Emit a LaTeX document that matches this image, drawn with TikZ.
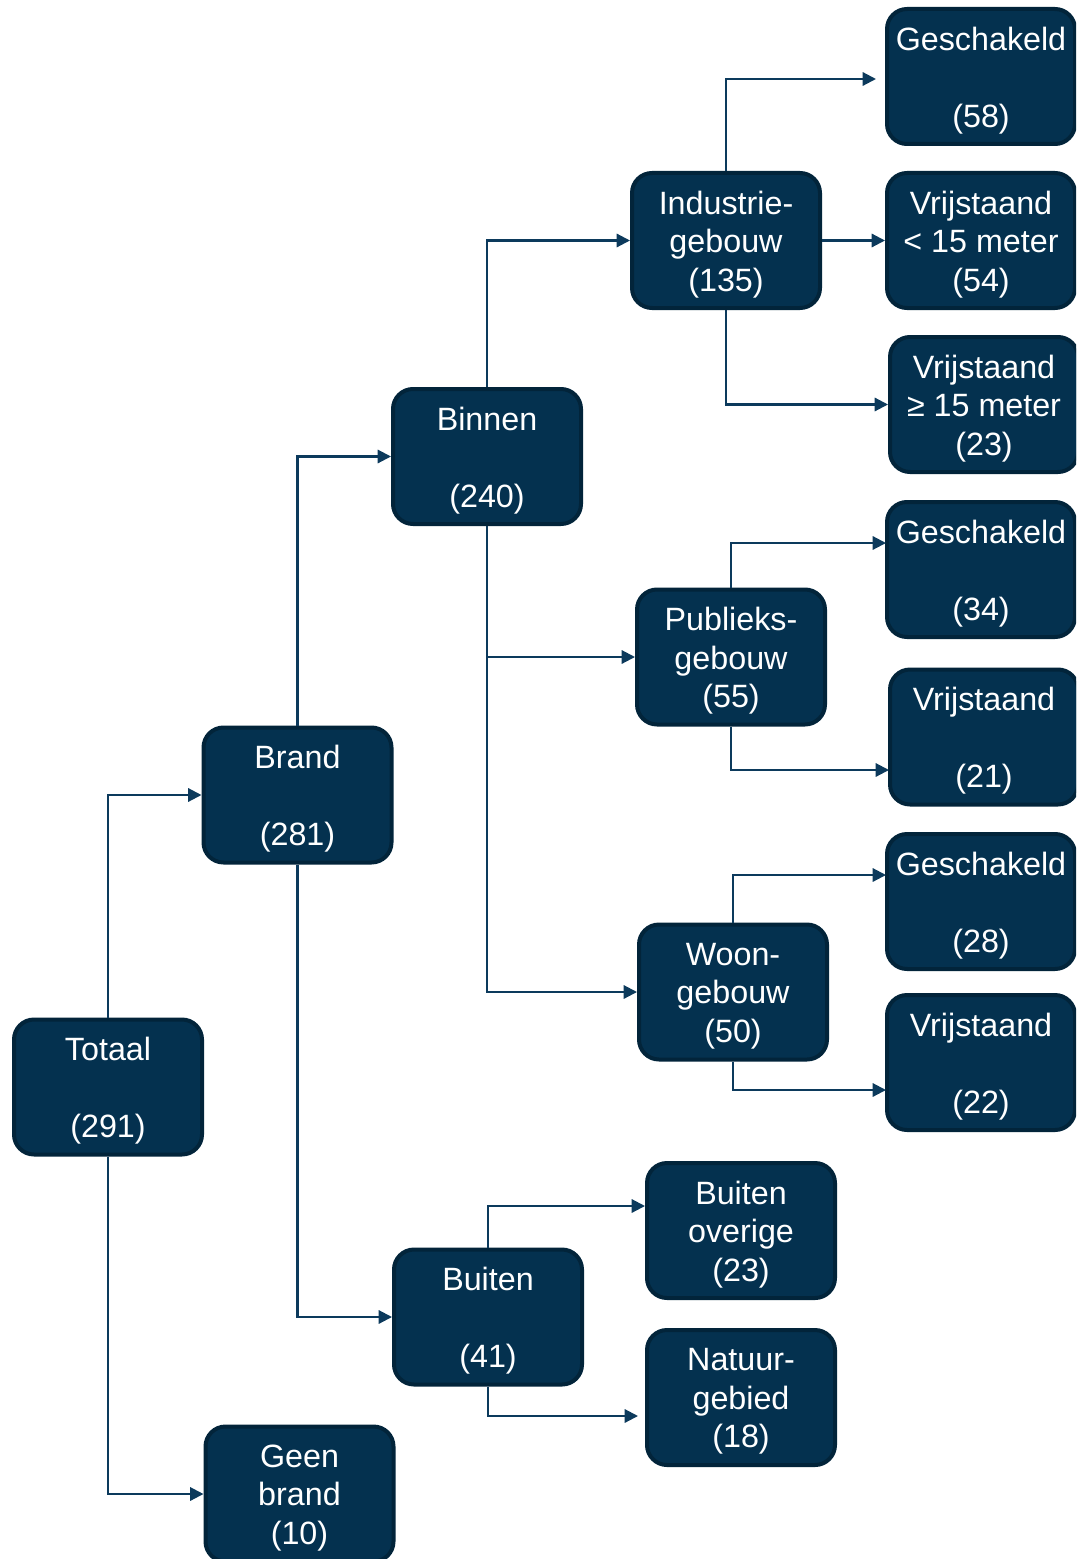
\documentclass[tikz,border=0pt]{standalone}
\usepackage{fontspec}
\setmainfont{Liberation Sans}
\usetikzlibrary{arrows.meta}
\definecolor{boxfill}{HTML}{04314F}
\definecolor{boxline}{HTML}{02243A}
\definecolor{conn}{HTML}{0C3A5C}
\tikzset{
  box/.style={draw=boxline, line width=3pt, fill=boxfill, rounded corners=15pt,
    minimum width=141pt, minimum height=101.25pt, inner sep=0pt,
    label={[txt]center:#1}},
  txt/.style={align=center, text=white, inner sep=0pt, yshift=-3pt,
    font=\fontsize{24.2}{28.9}\selectfont},
  arr/.style={draw=conn, line width=1.6pt, -{Triangle[length=10pt,width=10pt]}}
}
\begin{document}
\begin{tikzpicture}[x=0.75pt,y=-0.75pt]
\useasboundingbox (0,0) rectangle (1076,1559);
\clip (0,0) rectangle (1076,1559);
% nodes
\node[box={Totaal\\\mbox{}\\(291)}] (tot) at (108,1087) {};
\node[box={Brand\\\mbox{}\\(281)}] (brand) at (297.5,795) {};
\node[box={Geen\\brand\\(10)}] (geen) at (299.5,1494) {};
\node[box={Binnen\\\mbox{}\\(240)}] (binnen) at (487,456.5) {};
\node[box={Buiten\\\mbox{}\\(41)}] (buiten) at (488,1317) {};
\node[box={Industrie-\\gebouw\\(135)}] (ind) at (726,240.5) {};
\node[box={Publieks-\\gebouw\\(55)}] (pub) at (731,657) {};
\node[box={Woon-\\gebouw\\(50)}] (woon) at (733,992) {};
\node[box={Buiten\\overige\\(23)}] (bo) at (741,1230.5) {};
\node[box={Natuur-\\gebied\\(18)}] (nat) at (741,1397.5) {};
\node[box={Geschakeld\\\mbox{}\\(58)}] (g1) at (981,76.5) {};
\node[box={Vrijstaand\\< 15 meter\\(54)}] (v1) at (981,240.5) {};
\node[box={Vrijstaand\\≥ 15 meter\\(23)}] (v2) at (984,404.5) {};
\node[box={Geschakeld\\\mbox{}\\(34)}] (g2) at (981,569.5) {};
\node[box={Vrijstaand\\\mbox{}\\(21)}] (v3) at (984,737) {};
\node[box={Geschakeld\\\mbox{}\\(28)}] (g3) at (981,901.5) {};
\node[box={Vrijstaand\\\mbox{}\\(22)}] (v4) at (981,1062.5) {};
% connector end points
\coordinate (g1in) at (876,79);
\coordinate (g2in) at (886,543);
\coordinate (v3in) at (889,770);
\coordinate (g3in) at (886,875);
\coordinate (v4in) at (886,1090);
\coordinate (boin) at (645,1206);
\coordinate (natin) at (638,1416);
% connectors
\draw[arr] (tot.north) |- (brand.west);
\draw[arr] (tot.south) |- (geen.west);
\draw[arr] (brand.north) |- (binnen.west);
\draw[arr] (brand.south) |- (buiten.west);
\draw[arr] (binnen.north) |- (ind.west);
\draw[arr] (binnen.south) |- (woon.west);
\draw[arr] (binnen.south |- pub.west) -- (pub.west);
\draw[arr] (ind.north) |- (g1in);
\draw[arr] (ind.east) -- (v1.west);
\draw[arr] (ind.south) |- (v2.west);
\draw[arr] (pub.north) |- (g2in);
\draw[arr] (pub.south) |- (v3in);
\draw[arr] (woon.north) |- (g3in);
\draw[arr] (woon.south) |- (v4in);
\draw[arr] (buiten.north) |- (boin);
\draw[arr] (buiten.south) |- (natin);
\end{tikzpicture}
\end{document}
